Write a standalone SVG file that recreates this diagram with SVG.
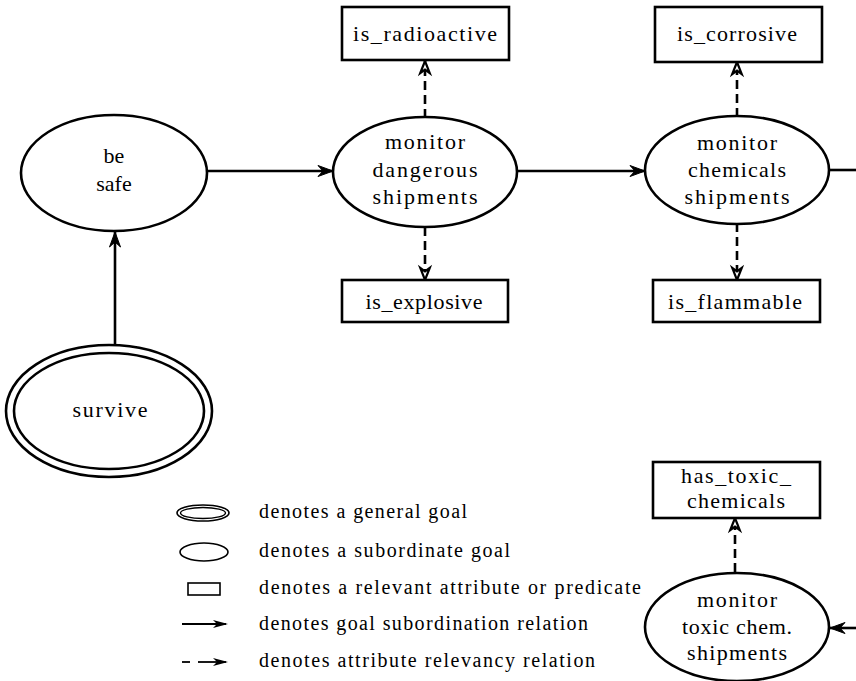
<svg xmlns="http://www.w3.org/2000/svg" width="856" height="681" viewBox="0 0 856 681">
  <style>
    .goal { fill: #fff; stroke: #000; stroke-width: 2.6; }
    .attr { fill: #fff; stroke: #000; stroke-width: 2.6; }
    .lbl { font-family: "Liberation Serif", "DejaVu Serif", serif; font-size: 22px; fill: #000; text-anchor: middle; }
    .leg { font-family: "Liberation Serif", "DejaVu Serif", serif; font-size: 20px; fill: #000; }
    .sub { fill: none; stroke: #000; stroke-width: 2.6; marker-end: url(#head); }
    .rel { fill: none; stroke: #000; stroke-width: 2.6; stroke-dasharray: 9 5; marker-end: url(#dhead); }
  </style>
  <defs>
    <marker id="head" markerUnits="userSpaceOnUse" markerWidth="16" markerHeight="12" refX="15" refY="5.5" orient="auto" overflow="visible">
      <path d="M0,0 L15,5.5 L0,11 L5,5.5 z" fill="#000" stroke="#000" stroke-width="1"/>
    </marker>
    <marker id="dhead" markerUnits="userSpaceOnUse" markerWidth="16" markerHeight="12" refX="13" refY="5.5" orient="auto" overflow="visible">
      <path d="M1,0.8 L13,5.5 L1,10.2 L4.5,5.5 z" fill="#fff" stroke="#000" stroke-width="2.2"/>
    </marker>
  </defs>

  <!-- connectors -->
  <g id="connectors">
    <line class="sub" x1="207" y1="171" x2="333" y2="171"/>
    <line class="sub" x1="518" y1="171" x2="645" y2="171"/>
    <line x1="830" y1="170" x2="856" y2="170" stroke="#000" stroke-width="2.6"/>
    <line class="sub" x1="115" y1="345" x2="115" y2="232"/>
    <line class="sub" x1="856" y1="628" x2="830" y2="628"/>
    <line class="rel" x1="425" y1="118" x2="425" y2="61"/>
    <line class="rel" x1="425" y1="227" x2="425" y2="280"/>
    <line class="rel" x1="737" y1="117" x2="737" y2="62"/>
    <line class="rel" x1="737" y1="223" x2="737" y2="280"/>
    <line class="rel" x1="735" y1="572" x2="735" y2="518"/>
  </g>

  <!-- goals -->
  <g id="be-safe">
    <ellipse class="goal" cx="114" cy="173" rx="93" ry="58"/>
    <text class="lbl" x="114" y="163">be</text>
    <text class="lbl" x="114" y="191">safe</text>
  </g>
  <g id="survive">
    <ellipse class="goal" cx="109" cy="411" rx="103" ry="66"/>
    <ellipse class="goal" cx="109" cy="411" rx="95" ry="58"/>
    <text class="lbl" x="110" y="417" textLength="75" lengthAdjust="spacing">survive</text>
  </g>
  <g id="monitor-dangerous">
    <ellipse class="goal" cx="425" cy="172" rx="92" ry="55"/>
    <text class="lbl" x="425" y="149" textLength="80" lengthAdjust="spacing">monitor</text>
    <text class="lbl" x="425" y="177" textLength="105" lengthAdjust="spacing">dangerous</text>
    <text class="lbl" x="425" y="204" textLength="105" lengthAdjust="spacing">shipments</text>
  </g>
  <g id="monitor-chemicals">
    <ellipse class="goal" cx="737" cy="170" rx="92" ry="54"/>
    <text class="lbl" x="737" y="150" textLength="80" lengthAdjust="spacing">monitor</text>
    <text class="lbl" x="737" y="177" textLength="98" lengthAdjust="spacing">chemicals</text>
    <text class="lbl" x="737" y="204" textLength="105" lengthAdjust="spacing">shipments</text>
  </g>
  <g id="monitor-toxic">
    <ellipse class="goal" cx="737" cy="627" rx="92" ry="54"/>
    <text class="lbl" x="737" y="607" textLength="80" lengthAdjust="spacing">monitor</text>
    <text class="lbl" x="737" y="634" textLength="110" lengthAdjust="spacing">toxic chem.</text>
    <text class="lbl" x="737" y="660" textLength="100" lengthAdjust="spacing">shipments</text>
  </g>

  <!-- attributes -->
  <g id="is-radioactive">
    <rect class="attr" x="342" y="7" width="167" height="53"/>
    <text class="lbl" x="425" y="41" textLength="144" lengthAdjust="spacing">is_radioactive</text>
  </g>
  <g id="is-explosive">
    <rect class="attr" x="342" y="280" width="166" height="42"/>
    <text class="lbl" x="424" y="309" textLength="117" lengthAdjust="spacing">is_explosive</text>
  </g>
  <g id="is-corrosive">
    <rect class="attr" x="655" y="7" width="167" height="55"/>
    <text class="lbl" x="737" y="41" textLength="120" lengthAdjust="spacing">is_corrosive</text>
  </g>
  <g id="is-flammable">
    <rect class="attr" x="653" y="280" width="167" height="42"/>
    <text class="lbl" x="735" y="309" textLength="134" lengthAdjust="spacing">is_flammable</text>
  </g>
  <g id="has-toxic-chemicals">
    <rect class="attr" x="653" y="462" width="167" height="56"/>
    <text class="lbl" x="736" y="483" textLength="110" lengthAdjust="spacing">has_toxic_</text>
    <text class="lbl" x="736" y="508" textLength="98" lengthAdjust="spacing">chemicals</text>
  </g>

  <!-- legend -->
  <g id="legend">
    <ellipse cx="203" cy="513" rx="26" ry="8" fill="none" stroke="#000" stroke-width="1.6"/>
    <ellipse cx="203" cy="513" rx="22.5" ry="5.5" fill="none" stroke="#000" stroke-width="1.4"/>
    <text class="leg" x="259" y="518" textLength="208" lengthAdjust="spacing">denotes a general goal</text>
    <ellipse cx="204" cy="552" rx="24" ry="9" fill="none" stroke="#000" stroke-width="1.6"/>
    <text class="leg" x="259" y="557" textLength="251" lengthAdjust="spacing">denotes a subordinate goal</text>
    <rect x="188" y="583" width="32" height="12" fill="none" stroke="#000" stroke-width="1.6"/>
    <text class="leg" x="259" y="594" textLength="382" lengthAdjust="spacing">denotes a relevant attribute or predicate</text>
    <line x1="182" y1="624" x2="226" y2="624" stroke="#000" stroke-width="1.8"/>
    <path d="M213,620 L228,624 L213,628 L217,624 z" fill="#000"/>
    <text class="leg" x="259" y="630" textLength="329" lengthAdjust="spacing">denotes goal subordination relation</text>
    <line x1="182" y1="662" x2="190" y2="662" stroke="#000" stroke-width="1.8"/>
    <line x1="198" y1="662" x2="226" y2="662" stroke="#000" stroke-width="1.8"/>
    <path d="M213,658 L228,662 L213,666 L217,662 z" fill="#000"/>
    <text class="leg" x="259" y="667" textLength="336" lengthAdjust="spacing">denotes attribute relevancy relation</text>
  </g>
</svg>
